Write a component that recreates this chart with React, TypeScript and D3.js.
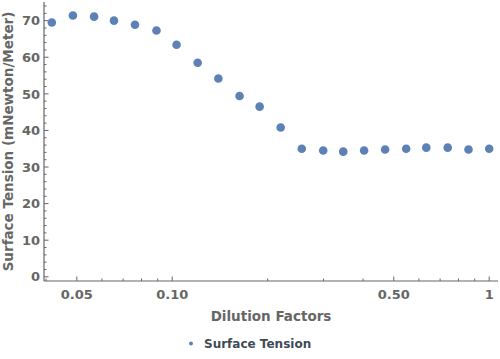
import React, { useEffect, useRef } from 'react';
import * as d3 from 'd3';

const dilution = [
  0.0417, 0.0486, 0.0567, 0.0655, 0.0763, 0.0892, 0.1032, 0.1203, 0.1398, 0.1631, 0.1887,
  0.2199, 0.2563, 0.2995, 0.3464, 0.403, 0.4695, 0.5472, 0.6331, 0.7398, 0.8604, 1.0,
];
const tension = [
  69.5, 71.4, 71.1, 70.0, 68.9, 67.3, 63.4, 58.5, 54.2, 49.4, 46.5,
  40.8, 35.0, 34.5, 34.2, 34.5, 34.8, 35.0, 35.3, 35.3, 34.8, 35.0,
];
const xMajor = [0.05, 0.1, 0.5, 1];
const xMajorLabels = ['0.05', '0.10', '0.50', '1'];
const xMinor = [0.04, 0.06, 0.07, 0.08, 0.09, 0.2, 0.3, 0.4, 0.6, 0.7, 0.8, 0.9];
const yMajor = [0, 10, 20, 30, 40, 50, 60, 70];

const App: React.FC = () => {
  const svgRef = useRef<SVGSVGElement>(null);

  useEffect(() => {
    if (!svgRef.current) return;
    const svg = d3.select(svgRef.current);
    svg.selectAll('*').remove();

    const left = 44, right = 498, top = 2, bottom = 281;
    const font = 'DejaVu Sans, sans-serif';
    const grey = '#666666';
    const dotColor = '#5e81b5';

    const x = d3.scaleLog().domain([0.0394, 1.066]).range([left, right]);
    const y = d3.scaleLinear().domain([-1.15, 75.1]).range([bottom, top]);

    // axes lines
    svg.append('line').attr('x1', left).attr('x2', right).attr('y1', bottom).attr('y2', bottom)
      .attr('stroke', grey).attr('stroke-width', 1.2);
    svg.append('line').attr('x1', left).attr('x2', left).attr('y1', top).attr('y2', bottom)
      .attr('stroke', grey).attr('stroke-width', 1.2);

    // x ticks
    svg.selectAll('.xmaj').data(xMajor).enter().append('line')
      .attr('x1', d => x(d)).attr('x2', d => x(d)).attr('y1', bottom).attr('y2', bottom - 4.5)
      .attr('stroke', grey);
    svg.selectAll('.xmin').data(xMinor).enter().append('line')
      .attr('x1', d => x(d)).attr('x2', d => x(d)).attr('y1', bottom).attr('y2', bottom - 2.5)
      .attr('stroke', grey);
    svg.selectAll('.xlab').data(xMajor).enter().append('text')
      .attr('x', d => x(d)).attr('y', bottom + 18)
      .attr('text-anchor', 'middle')
      .attr('font-family', font).attr('font-weight', 'bold').attr('font-size', 13)
      .attr('fill', grey)
      .text((d, i) => xMajorLabels[i]);

    // y ticks
    const yMinor = d3.range(0, 75, 2).filter(v => v % 10 !== 0);
    svg.selectAll('.ymaj').data(yMajor).enter().append('line')
      .attr('x1', left).attr('x2', left + 4.5).attr('y1', d => y(d)).attr('y2', d => y(d))
      .attr('stroke', grey);
    svg.selectAll('.ymin').data(yMinor).enter().append('line')
      .attr('x1', left).attr('x2', left + 2.5).attr('y1', d => y(d)).attr('y2', d => y(d))
      .attr('stroke', grey);
    svg.selectAll('.ylab').data(yMajor).enter().append('text')
      .attr('x', left - 4).attr('y', d => y(d)).attr('dy', '0.36em')
      .attr('text-anchor', 'end')
      .attr('font-family', font).attr('font-weight', 'bold').attr('font-size', 13)
      .attr('fill', grey)
      .text(d => String(d));

    // axis titles
    svg.append('text')
      .attr('x', 271).attr('y', 321)
      .attr('text-anchor', 'middle')
      .attr('font-family', font).attr('font-weight', 'bold').attr('font-size', 13.5)
      .attr('fill', grey)
      .text('Dilution Factors');
    svg.append('text')
      .attr('transform', `translate(13,${(top + bottom) / 2}) rotate(-90)`)
      .attr('text-anchor', 'middle')
      .attr('font-family', font).attr('font-weight', 'bold').attr('font-size', 13.5)
      .attr('fill', grey)
      .text('Surface Tension (mNewton/Meter)');

    // points
    const pts = dilution.map((d, i) => ({ d, t: tension[i] }));
    svg.selectAll('.pt').data(pts).enter().append('circle')
      .attr('cx', p => x(p.d)).attr('cy', p => y(p.t)).attr('r', 4.3)
      .attr('fill', dotColor);

    // legend
    svg.append('circle').attr('cx', 191).attr('cy', 343.5).attr('r', 2).attr('fill', dotColor);
    svg.append('text')
      .attr('x', 204).attr('y', 348)
      .attr('font-family', font).attr('font-weight', 'bold').attr('font-size', 12)
      .attr('fill', '#404a57')
      .text('Surface Tension');
  }, []);

  return (
    <svg ref={svgRef} width={500} height={359}
      style={{ position: 'absolute', left: 0, top: 0, background: '#fff' }} />
  );
};

export default App;
